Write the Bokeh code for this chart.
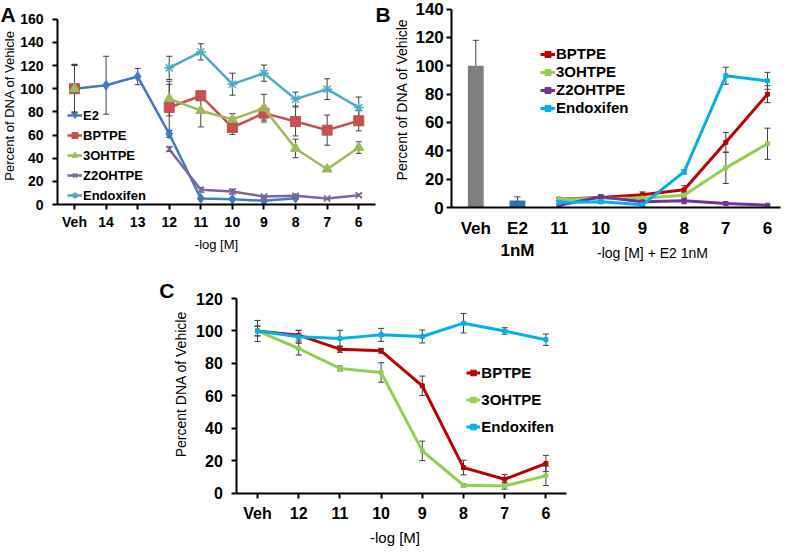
import math
from bokeh.plotting import figure
from bokeh.layouts import column, row
from bokeh.models import (ColumnDataSource, Whisker, TeeHead, Legend, LegendItem,
                          FixedTicker, Label, Range1d)
from bokeh.embed import file_html
from bokeh.resources import INLINE

nan = float("nan")
FONT = "Liberation Sans"

# ---------------- Panel A data ----------------
A_labels = ["Veh", "14", "13", "12", "11", "10", "9", "8", "7", "6"]
A_E2 = [100, 103, 110.5, 61, 5.2, 4.6, 3.2, 5.5, nan, nan]
A_E2_err = [21, 25, 7, 3, 1, 1, 1, 1, 0, 0]
A_BPTPE = [100, nan, nan, 83.8, 93.9, 66.5, 78.9, 71.7, 64.2, 72.3]
A_BPTPE_err = [20, 0, 0, 20, 4, 6, 6, 12.5, 13, 8.7]
A_3OHTPE = [100, nan, nan, 91.5, 81, 73.5, 83.2, 48.4, 30.5, 49.2]
A_3OHTPE_err = [21, 0, 0, 15, 14, 5, 12, 8, 2, 5]
A_Z2OHTPE = [nan, nan, nan, 47.8, 12.7, 11.2, 6.9, 7.5, 5.2, 8.0]
A_Z2OHTPE_err = [0, 0, 0, 2, 2, 2, 1, 1, 1, 1]
A_Endox = [nan, nan, nan, 118, 131.8, 103.9, 113.4, 91, 99.6, 83.8]
A_Endox_err = [0, 0, 0, 10, 7, 9.5, 7, 6, 9, 9]
A_yticks = [0, 20, 40, 60, 80, 100, 120, 140, 160]

# ---------------- Panel B data ----------------
B_labels = ["Veh", "E2\n1nM", "11", "10", "9", "8", "7", "6"]
B_bar_vals = [100, 5]
B_bar_err = [18, 2.5]
B_BPTPE = [nan, nan, 5.9, 7, 9, 12.5, 46, 80]
B_BPTPE_err = [0, 0, 1, 1, 2, 3, 7, 6]
B_3OHTPE = [nan, nan, 5.9, 6.5, 6.6, 8.7, 28, 45]
B_3OHTPE_err = [0, 0, 1, 1, 1, 2, 11, 11]
B_Z2OHTPE = [nan, nan, 1.6, 7.5, 4, 4.7, 2.8, 1.6]
B_Z2OHTPE_err = [0, 0, 1, 1.5, 1, 2, 1, 0.5]
B_Endox = [nan, nan, 3.5, 4, 1.9, 25.2, 93, 89.4]
B_Endox_err = [0, 0, 1, 1, 1, 1.5, 6, 6]
B_yticks = [0, 20, 40, 60, 80, 100, 120, 140]

# ---------------- Panel C data ----------------
C_labels = ["Veh", "12", "11", "10", "9", "8", "7", "6"]
C_BPTPE = [100, 97.4, 88.8, 87.8, 66.2, 15.8, 8.6, 18.3]
C_BPTPE_err = [3, 3, 2, 1.5, 6, 4.5, 3, 5]
C_3OHTPE = [100, 89.2, 76.9, 74.4, 26.1, 4.9, 4.5, 10.7]
C_3OHTPE_err = [3, 4, 1.5, 6, 6, 1, 2, 6]
C_Endox = [100, 96.4, 95.4, 97.6, 96.6, 104.8, 100, 94.6]
C_Endox_err = [6.5, 4, 5, 4, 4, 6, 2, 3.5]
C_yticks = [0, 20, 40, 60, 80, 100, 120]

ERR_COLOR = "#404040"


class Panel:
    """Geometry of one panel: page position of category 0 / value 0 and px per unit.
    The figure's frame covers its whole canvas; axes are pinned with fixed_location."""

    def __init__(self, canvas, x0, sx, y0, sy):
        self.left, self.top, self.right, self.bottom = canvas
        self.x0, self.sx, self.y0, self.sy = x0, sx, y0, sy

    def dx(self, px):
        return (px - self.x0) / self.sx

    def dy(self, py):
        return (self.y0 - py) / self.sy

    def fig(self):
        p = figure(width=int(self.right - self.left), height=int(self.bottom - self.top),
                   x_range=Range1d(self.dx(self.left), self.dx(self.right)),
                   y_range=Range1d(self.dy(self.bottom), self.dy(self.top)),
                   output_backend="svg", toolbar_location=None,
                   min_border_left=0, min_border_right=0, min_border_top=0, min_border_bottom=0)
        p.min_border = 0
        p.grid.visible = False
        p.outline_line_color = None
        p.background_fill_color = "white"
        p.border_fill_color = "white"
        return p


def style_axes(p, pan, labels, yticks, ymax, xlo, xhi, tick_size,
               x_tick_out, x_std, y_std):
    for ax in (p.xaxis[0], p.yaxis[0]):
        ax.axis_line_color = "black"
        ax.axis_line_width = 2
        ax.major_tick_line_color = "black"
        ax.major_tick_line_width = 2
        ax.major_tick_in = 0
        ax.minor_tick_line_color = None
        ax.major_label_text_font = FONT
        ax.major_label_text_font_style = "bold"
        ax.major_label_text_font_size = tick_size
        ax.major_label_text_color = "black"
    p.xaxis.ticker = FixedTicker(ticks=list(range(len(labels))))
    p.xaxis.major_label_overrides = {i: s for i, s in enumerate(labels)}
    p.xaxis.major_tick_out = x_tick_out
    if x_tick_out == 0:
        p.xaxis.major_tick_line_color = None
    p.xaxis.major_label_standoff = x_std
    p.xaxis.fixed_location = 0
    p.xaxis.bounds = (xlo, xhi)
    p.yaxis.ticker = FixedTicker(ticks=yticks)
    p.yaxis.major_tick_out = 5
    p.yaxis.major_label_standoff = y_std
    p.yaxis.fixed_location = xlo
    p.yaxis.bounds = (0, ymax)


def add_err(p, xs, ys, errs, color=ERR_COLOR, size=6):
    bx, up, lo = [], [], []
    for x, y, e in zip(xs, ys, errs):
        if e and not math.isnan(y):
            bx.append(x)
            up.append(y + e)
            lo.append(y - e)
    src = ColumnDataSource(dict(x=bx, up=up, lo=lo))
    w = Whisker(source=src, base="x", upper="up", lower="lo", dimension="height",
                line_color=color, line_width=1,
                upper_head=TeeHead(size=size, line_color=color, line_width=1),
                lower_head=TeeHead(size=size, line_color=color, line_width=1))
    p.add_layout(w)


def legend_style(lg, font_size, h, gw):
    lg.background_fill_alpha = 0
    lg.border_line_color = None
    lg.padding = 0
    lg.margin = 0
    lg.spacing = 0
    lg.label_standoff = 1
    lg.glyph_width = gw
    lg.glyph_height = h
    lg.label_height = h
    lg.label_text_font = FONT
    lg.label_text_font_style = "bold"
    lg.label_text_font_size = font_size
    lg.label_text_color = "black"
    lg.label_text_baseline = "middle"


def text(p, pan, px, py, s, size, bold=False, align="center", baseline="middle", angle=0.0):
    p.add_layout(Label(x=pan.dx(px), y=pan.dy(py), text=s, text_font=FONT,
                       text_font_style="bold" if bold else "normal", text_font_size=size,
                       text_align=align, text_baseline=baseline, angle=angle,
                       text_color="black"))


# Page geometry (window pixels) of each panel
PA = Panel((8, 8, 401, 278), 82.0, 31.58, 212.0, 1.158)
PB = Panel((401, 8, 799, 278), 483.3, 41.67, 215.0, 1.4167)
PC = Panel((8, 278, 799, 555), 265.0, 41.2, 500.7, 1.6222)

# ======================= Panel A =======================
pA = PA.fig()
style_axes(pA, PA, A_labels, A_yticks, 160, PA.dx(65), PA.dx(383), "14px",
           x_tick_out=5, x_std=4, y_std=9)
xa = list(range(len(A_labels)))
A_series = [
    ("E2", A_E2, A_E2_err, "#3F7CC4", "diamond", 10),
    ("BPTPE", A_BPTPE, A_BPTPE_err, "#C9504D", "square", 10),
    ("3OHTPE", A_3OHTPE, A_3OHTPE_err, "#9BBB59", "triangle", 10),
    ("Z2OHTPE", A_Z2OHTPE, A_Z2OHTPE_err, "#8064A2", "x", 9),
    ("Endoxifen", A_Endox, A_Endox_err, "#4BACC6", "asterisk", 10),
]
itemsA = []
for name, ys, errs, col, mk, sz in A_series:
    src = ColumnDataSource(dict(x=xa, y=ys))
    ln = pA.line("x", "y", source=src, line_color=col, line_width=2.5)
    lw = 1.5 if mk in ("x", "asterisk") else 1
    sc = pA.scatter("x", "y", source=src, marker=mk, size=sz, fill_color=col,
                    line_color=col, line_width=lw)
    add_err(pA, xa, ys, errs)
    itemsA.append(LegendItem(label=name, renderers=[ln, sc]))
legA = Legend(items=itemsA, location=(75 - PA.left, PA.bottom - 213))
legend_style(legA, "13px", 20, 15)
pA.add_layout(legA)
text(pA, PA, 16.5, 113, "Percent of DNA of Vehicle", "13px", angle=math.pi / 2)
text(pA, PA, 224, 252, "-log [M]", "13px")
text(pA, PA, 8, 22, "A", "21px", bold=True, align="left", baseline="alphabetic")
text(pA, PA, 383, 22, "B", "21px", bold=True, align="left", baseline="alphabetic")

# ======================= Panel B =======================
pB = PB.fig()
style_axes(pB, PB, B_labels, B_yticks, 140, PB.dx(459.3), PB.dx(788), "17px",
           x_tick_out=0, x_std=11, y_std=3)
xb = list(range(len(B_labels)))
pB.vbar(x=[0, 1], top=B_bar_vals, width=0.38, fill_color=["#7F7F7F", "#2E75B6"],
        line_color=None)
add_err(pB, [0, 1], B_bar_vals, B_bar_err)
B_series = [
    ("BPTPE", B_BPTPE, B_BPTPE_err, "#C00000"),
    ("3OHTPE", B_3OHTPE, B_3OHTPE_err, "#92D050"),
    ("Z2OHTPE", B_Z2OHTPE, B_Z2OHTPE_err, "#7030A0"),
    ("Endoxifen", B_Endox, B_Endox_err, "#00B0F0"),
]
itemsB = []
for name, ys, errs, col in B_series:
    src = ColumnDataSource(dict(x=xb, y=ys))
    ln = pB.line("x", "y", source=src, line_color=col, line_width=3)
    sc = pB.scatter("x", "y", source=src, marker="square", size=4, fill_color=col,
                    line_color=col)
    add_err(pB, xb, ys, errs)
    itemsB.append(LegendItem(label=name, renderers=[ln, sc]))
legB = Legend(items=itemsB, location=(548 - PB.left, PB.bottom - 124.7))
legend_style(legB, "15px", 18, 15)
pB.add_layout(legB)
text(pB, PB, 409, 107, "Percent of DNA of Vehicle", "14px", angle=math.pi / 2)
text(pB, PB, 660, 260, "-log [M] + E2 1nM", "14px")

# ======================= Panel C =======================
pC = PC.fig()
style_axes(pC, PC, C_labels, C_yticks, 120, PC.dx(244.3), PC.dx(574), "16px",
           x_tick_out=5, x_std=7, y_std=9)
xc = list(range(len(C_labels)))
C_series = [
    ("BPTPE", C_BPTPE, C_BPTPE_err, "#C00000"),
    ("3OHTPE", C_3OHTPE, C_3OHTPE_err, "#92D050"),
    ("Endoxifen", C_Endox, C_Endox_err, "#00B0F0"),
]
itemsC = []
for name, ys, errs, col in C_series:
    src = ColumnDataSource(dict(x=xc, y=ys))
    ln = pC.line("x", "y", source=src, line_color=col, line_width=3)
    sc = pC.scatter("x", "y", source=src, marker="square", size=4, fill_color=col,
                    line_color=col)
    add_err(pC, xc, ys, errs)
    itemsC.append(LegendItem(label=name, renderers=[ln, sc]))
legC = Legend(items=itemsC, location=(474.3 - PC.left, PC.bottom - 447.7))
legend_style(legC, "15px", 27, 14)
pC.add_layout(legC)
text(pC, PC, 188.3, 391.7, "Percent DNA of Vehicle", "14px", angle=math.pi / 2)
text(pC, PC, 402.5, 545, "-log [M]", "15px")
text(pC, PC, 166.7, 298, "C", "21px", bold=True, align="left", baseline="alphabetic")

layout = column(row(pA, pB), pC)
open("out.html", "w").write(file_html(layout, INLINE))
